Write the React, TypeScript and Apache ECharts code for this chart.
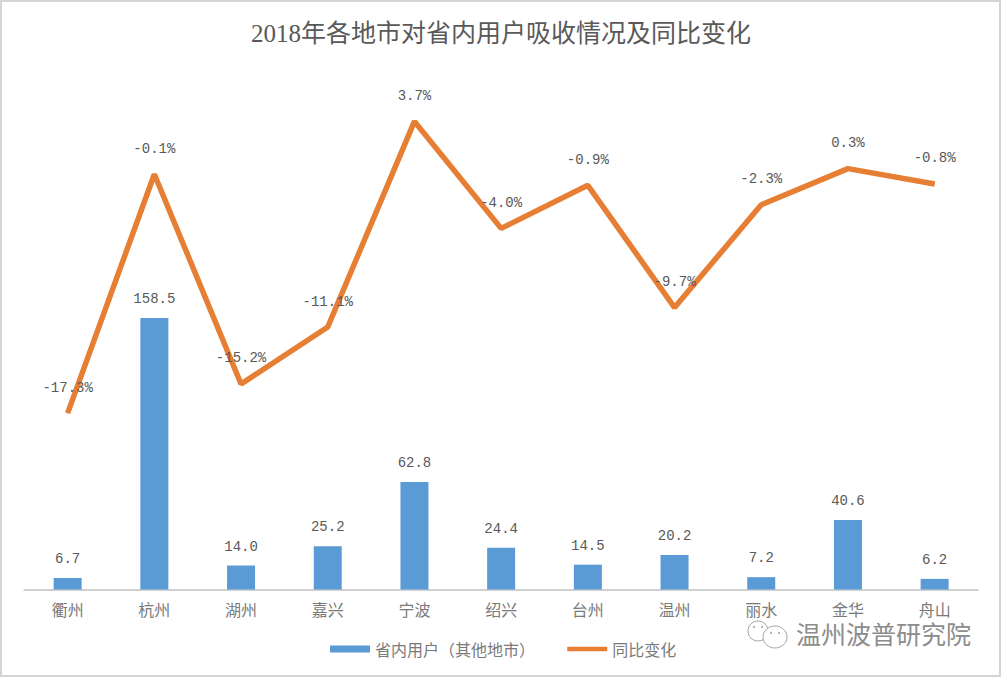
import React, { useEffect, useRef } from "react";
import * as echarts from "echarts";

const titleText = "2018年各地市对省内用户吸收情况及同比变化";
const watermark = "温州波普研究院";
const categories = ["衢州", "杭州", "湖州", "嘉兴", "宁波", "绍兴", "台州", "温州", "丽水", "金华", "舟山"];
const barName = "省内用户（其他地市）";
const lineName = "同比变化";
const users = [6.7, 158.5, 14.0, 25.2, 62.8, 24.4, 14.5, 20.2, 7.2, 40.6, 6.2];
const change = [-17.3, -0.1, -15.2, -11.1, 3.7, -4.0, -0.9, -9.7, -2.3, 0.3, -0.8];

const CJK = '"Noto Sans CJK SC"';
const NUM = '"Liberation Mono", "Noto Sans CJK SC"';

export default function App() {
  const ref = useRef<HTMLDivElement>(null);
  useEffect(() => {
    document.body.style.margin = "0";
    const chart = echarts.init(ref.current!, undefined, { renderer: "svg" });
    chart.setOption({
      animation: false,
      backgroundColor: "#ffffff",
      title: {
        text: titleText,
        left: "center",
        top: 16,
        textStyle: { fontFamily: '"Liberation Serif", "Noto Sans CJK SC"', fontSize: 25, fontWeight: "normal", color: "#595959" },
      },
      legend: {
        left: 325,
        top: 636,
        itemWidth: 40,
        itemHeight: 7,
        itemGap: 30,
        textStyle: { fontFamily: CJK, fontSize: 16, color: "#7a7a7a" },
        data: [
          { name: barName, icon: "rect" },
          { name: lineName, itemStyle: { opacity: 0 }, lineStyle: { width: 4.5 } },
        ],
      },
      grid: { left: 24.3, right: 24, top: 75.6, bottom: 88.5 },
      xAxis: {
        type: "category",
        data: categories,
        axisTick: { show: false },
        axisLine: { lineStyle: { color: "#d0d0d0", width: 2 } },
        axisLabel: { fontFamily: CJK, fontSize: 16, color: "#7a7a7a", margin: 11 },
      },
      yAxis: [
        { type: "value", min: 0, max: 300, show: false, splitLine: { show: false } },
        { type: "value", min: -30, max: 7, show: false, splitLine: { show: false } },
      ],
      series: [
        {
          name: barName,
          type: "bar",
          yAxisIndex: 0,
          data: users,
          barWidth: 28,
          itemStyle: { color: "#5B9BD5" },
          label: {
            show: true,
            position: "top",
            distance: 12,
            fontFamily: NUM,
            fontSize: 14,
            color: "#595959",
            formatter: (p: any) => Number(p.value).toFixed(1),
          },
        },
        {
          name: lineName,
          type: "line",
          yAxisIndex: 1,
          data: change,
          symbol: "circle",
          symbolSize: 1,
          lineStyle: { color: "#E67E33", width: 5.5 },
          itemStyle: { color: "#E67E33" },
          labelLayout: { hideOverlap: false },
          label: {
            show: true,
            position: "top",
            distance: 18,
            fontFamily: NUM,
            fontSize: 14,
            color: "#595959",
            formatter: (p: any) => `${Number(p.value).toFixed(1)}%`,
          },
        },
      ],
      graphic: [
        {
          type: "rect",
          silent: true,
          shape: { x: 1, y: 1, width: 999, height: 675 },
          style: { fill: "none", stroke: "#d4d4d4", lineWidth: 2 },
        },
        {
          type: "text",
          x: 796,
          y: 620,
          style: { text: watermark, fontFamily: CJK, fontSize: 25, fill: "#8c8c8c" },
        },
        {
          type: "ellipse",
          shape: { cx: 758, cy: 631, rx: 10, ry: 10 },
          style: { fill: "none", stroke: "#a5a5a5", lineWidth: 1 },
        },
        {
          type: "ellipse",
          shape: { cx: 775, cy: 637, rx: 12, ry: 11 },
          style: { fill: "#ffffff", stroke: "#a5a5a5", lineWidth: 1 },
        },
        { type: "circle", shape: { cx: 754, cy: 627, r: 1 }, style: { fill: "#a5a5a5" } },
        { type: "circle", shape: { cx: 762, cy: 627, r: 1 }, style: { fill: "#a5a5a5" } },
        { type: "circle", shape: { cx: 771, cy: 633, r: 1 }, style: { fill: "#a5a5a5" } },
        { type: "circle", shape: { cx: 779, cy: 633, r: 1 }, style: { fill: "#a5a5a5" } },
      ],
    });
    return () => chart.dispose();
  }, []);
  return <div ref={ref} style={{ position: "absolute", left: 0, top: 0, width: 1002, height: 678 }} />;
}
